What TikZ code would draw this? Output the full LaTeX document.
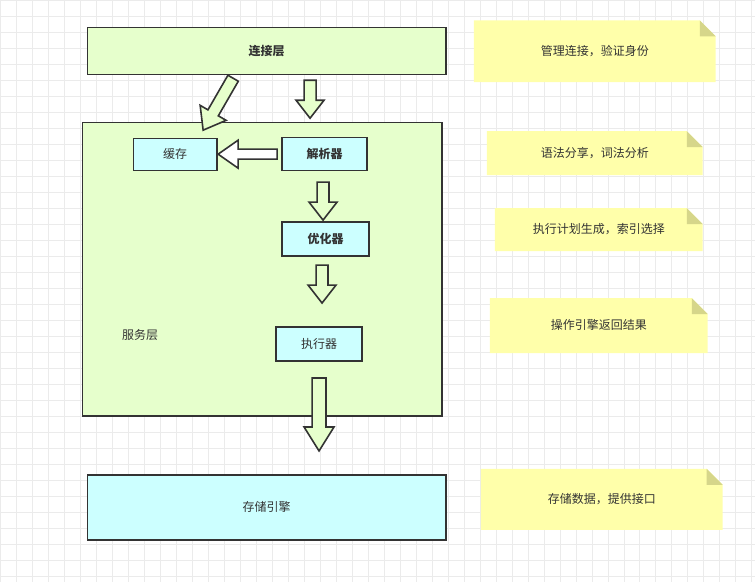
\documentclass[tikz,border=0pt]{standalone}
\usepackage{fontspec}
\setmainfont{Noto Sans CJK SC}
\definecolor{gfill}{HTML}{E6FFCC}
\definecolor{cfill}{HTML}{CCFFFF}
\definecolor{yfill}{HTML}{FFFFAA}
\definecolor{yfold}{HTML}{D6D68A}
\begin{document}
\begin{tikzpicture}[x=1pt,y=-1pt,
  box/.style={draw=black!80,line width=1.3pt},
  green/.style={box,fill=gfill},
  cyan/.style={box,fill=cfill},
  lbl/.style={font=\fontsize{12}{14}\selectfont,text=black!80},
  blbl/.style={lbl,font=\fontsize{12}{14}\selectfont\bfseries},
  pics/barrow/.style args={#1/#2/#3/#4/#5}{code={
    \draw[line width=1.6pt,draw=black!80,fill=#5,line join=miter]
      (0,-#2) -- ({#1-#4},-#2) -- ({#1-#4},-#3) -- (#1,0) -- ({#1-#4},#3) -- ({#1-#4},#2) -- (0,#2) -- cycle;}}
]
\fill[white] (0,0) rectangle (755,582);
\foreach \x in {0,16,...,752} \draw[black!8,line width=0.6pt] (\x,0) -- (\x,582);
\foreach \y in {0,16,...,580} \draw[black!8,line width=0.6pt] (0,\y) -- (755,\y);
% notes
\foreach \a/\b/\c/\d in {474/20/716/82,487/131/703/175,495/208/703/251,490/298/708/353,481/469/723/530}{
  \fill[yfill] (\a,\b) -- (\c-16,\b) -- (\c,\b+16) -- (\c,\d) -- (\a,\d) -- cycle;
  \fill[yfold] (\c-16,\b) -- (\c,\b+16) -- (\c-16,\b+16) -- cycle;
}
\node[lbl] (n1) at (595,51) {管理连接，验证身份};
\node[lbl] (n2) at (595,153) {语法分享，词法分析};
\node[lbl] (n3) at (599,229) {执行计划生成，索引选择};
\node[lbl] (n4) at (599,325) {操作引擎返回结果};
\node[lbl] (n5) at (602,499) {存储数据，提供接口};
% boxes
\node[green,minimum width=359,minimum height=47,blbl] (conn) at (266.5,50.5) {连接层};
\node[green,minimum width=360,minimum height=294] (svc) at (262,269) {};
\node[lbl] (svct) at (140,335) {服务层};
\node[cyan,minimum width=84,minimum height=32,lbl] (cache) at (175,154) {缓存};
\node[cyan,minimum width=85,minimum height=33,blbl] (parse) at (324.5,153.5) {解析器};
\node[cyan,minimum width=87,minimum height=34,blbl] (opt) at (325.5,239) {优化器};
\node[cyan,minimum width=86,minimum height=34,lbl] (exec) at (319,344) {执行器};
\node[cyan,minimum width=359,minimum height=65,lbl] (store) at (266.5,507.5) {存储引擎};
% block arrows
\pic[rotate=240] at (233,78) {barrow={60/6/15/20/gfill}};
\pic[rotate=-90] at (310,80) {barrow={38/6/14/18/gfill}};
\pic[rotate=180] at (277,154) {barrow={59/5/14/20/white}};
\pic[rotate=-90] at (323,182) {barrow={38/6/14/18/gfill}};
\pic[rotate=-90] at (322,265) {barrow={38/6/14/18/gfill}};
\pic[rotate=-90] at (319,378) {barrow={73/7/15/24/gfill}};
\end{tikzpicture}
\end{document}
